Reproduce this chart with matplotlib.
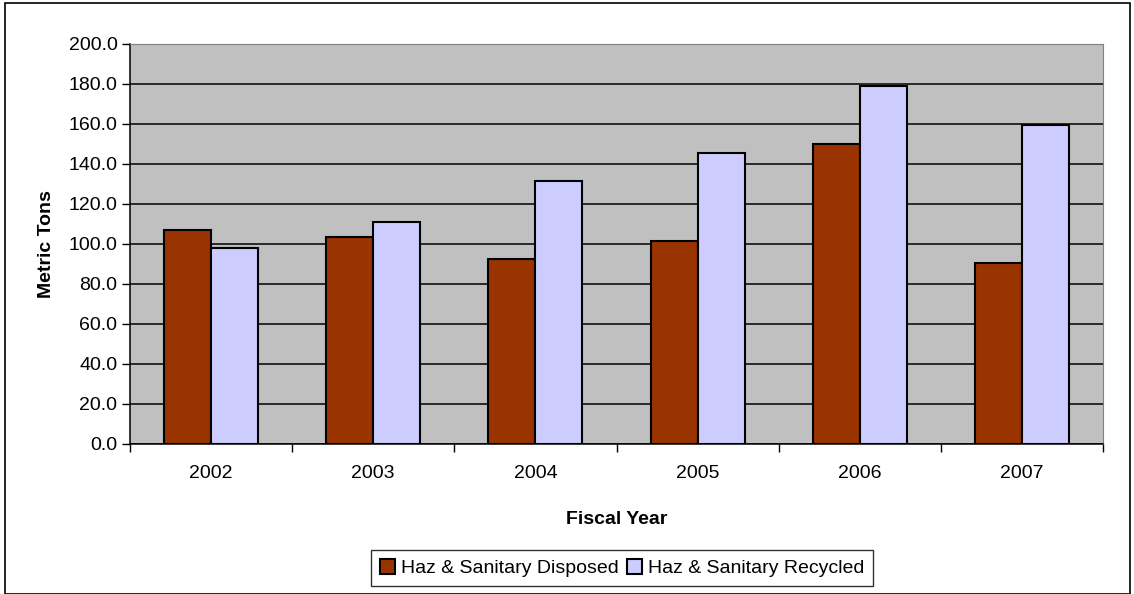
import matplotlib.pyplot as plt
import matplotlib.patches as mpatches
import numpy as np

plt.rcParams['font.family'] = ['Liberation Sans', 'DejaVu Sans']

years = ["2002", "2003", "2004", "2005", "2006", "2007"]
disposed = [107.2, 103.5, 92.3, 101.5, 150.2, 90.7]
recycled = [98.0, 111.0, 131.5, 145.7, 179.2, 159.5]

fig = plt.figure(figsize=(11.34, 5.94), dpi=100)
ax = fig.add_axes([130 / 1134, 1 - 444 / 594, 973 / 1134, 400 / 594])

x = np.arange(len(years))
w = 0.29
ax.bar(x - w / 2, disposed, w, color="#993300", edgecolor="black", linewidth=1.5,
       label="Haz & Sanitary Disposed", zorder=3)
ax.bar(x + w / 2, recycled, w, color="#CCCCFF", edgecolor="black", linewidth=1.5,
       label="Haz & Sanitary Recycled", zorder=3)

ax.set_facecolor("#C0C0C0")
ax.set_xlim(-0.5, len(years) - 0.5)
ax.set_ylim(0, 200)
ax.set_yticks(np.arange(0, 201, 20))
ax.set_yticklabels([f"{v:.1f}" for v in np.arange(0, 201, 20)], fontsize=14)
ax.yaxis.grid(True, color="black", linewidth=1.1, zorder=0)
ax.set_axisbelow(True)

ax.set_xticks(x)
ax.set_xticklabels(years, fontsize=14)
ax.set_xticks(np.arange(-0.5, len(years)), minor=True)
ax.tick_params(axis="x", which="major", length=0, pad=15)
ax.tick_params(axis="x", which="minor", length=6, width=1, direction="out")
ax.tick_params(axis="y", length=6, width=1, direction="out", pad=3)

for s in ["top", "right"]:
    ax.spines[s].set_color("#808080")
for s in ["left", "bottom"]:
    ax.spines[s].set_color("black")
    ax.spines[s].set_linewidth(1.1)

ax.set_ylabel("Metric Tons", fontsize=14, fontweight="bold", labelpad=10)
ax.set_xlabel("Fiscal Year", fontsize=14, fontweight="bold", labelpad=21)

leg = fig.legend(loc="center", bbox_to_anchor=(622 / 1134, 1 - 568 / 594), ncol=2,
                 fontsize=14, frameon=True, fancybox=False, edgecolor="black",
                 handlelength=0.8, handleheight=0.8, handletextpad=0.3,
                 columnspacing=0.4, borderpad=0.45)
leg.get_frame().set_linewidth(1.0)

fig.patches.append(mpatches.Rectangle((5 / 1134, 0), 1125 / 1134, 1 - 3 / 594,
                                      transform=fig.transFigure, fill=False,
                                      edgecolor="black", linewidth=1.2))

fig.savefig("out.png", dpi=100)
